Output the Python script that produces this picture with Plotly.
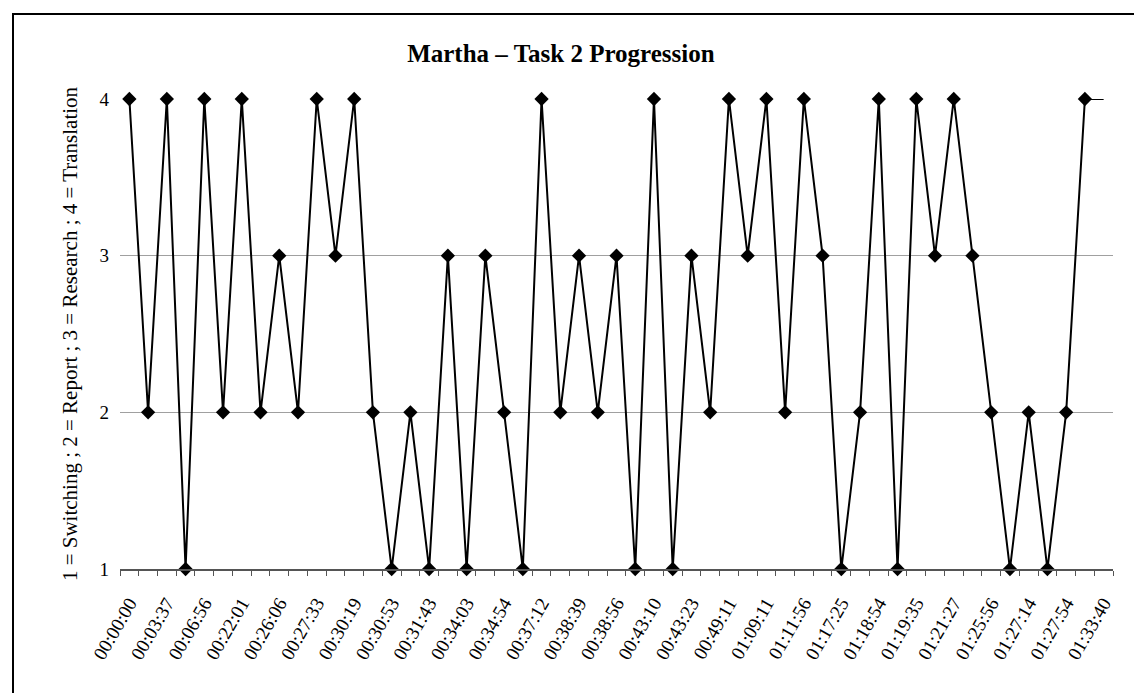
import plotly.graph_objects as go

# Values per observation (1 = Switching, 2 = Report, 3 = Research, 4 = Translation)
values = [4, 2, 4, 1, 4, 2, 4, 2, 3, 2,
          4, 3, 4, 2, 1, 2, 1, 3, 1, 3,
          2, 1, 4, 2, 3, 2, 3, 1, 4, 1,
          3, 2, 4, 3, 4, 2, 4, 3, 1, 2,
          4, 1, 4, 3, 4, 3, 2, 1, 2, 1,
          2, 4, 4]

# Time labels shown on every other category
tick_labels = ["00:00:00", "00:03:37", "00:06:56", "00:22:01", "00:26:06", "00:27:33",
               "00:30:19", "00:30:53", "00:31:43", "00:34:03", "00:34:54", "00:37:12",
               "00:38:39", "00:38:56", "00:43:10", "00:43:23", "00:49:11", "01:09:11",
               "01:11:56", "01:17:25", "01:18:54", "01:19:35", "01:21:27", "01:25:56",
               "01:27:14", "01:27:54", "01:33:40"]

y_ticks = [1, 2, 3, 4]

x = list(range(len(values)))
marker_sizes = [11] * (len(values) - 1) + [0]

FONT = "Liberation Serif"

fig = go.Figure()
fig.add_trace(go.Scatter(
    x=x, y=values, mode="lines+markers",
    line=dict(color="black", width=2),
    marker=dict(symbol="diamond", size=marker_sizes, color="black", opacity=1,
                line=dict(width=0, color="black")),
    cliponaxis=False, showlegend=False,
))

fig.update_layout(
    width=1134, height=693,
    margin=dict(l=120, r=21, t=99, b=124),
    paper_bgcolor="white", plot_bgcolor="white",
    font=dict(family=FONT, color="black"),
    title=dict(text="<b>Martha \u2013 Task 2 Progression</b>",
               font=dict(family=FONT, size=25, color="black"),
               x=0.444, xref="paper", xanchor="center",
               y=1 - 53 / 693, yref="container", yanchor="middle"),
    xaxis=dict(
        range=[-0.5, len(values) - 0.5],
        tickvals=x[::2], ticktext=tick_labels,
        tickangle=-60, tickfont=dict(family=FONT, size=19, color="black"),
        ticks="", ticklabelstandoff=14,
        showgrid=False, zeroline=False,
        showline=True, linecolor="#555555", linewidth=1.5,
        minor=dict(ticks="outside", ticklen=5, tickwidth=1, tickcolor="#555555",
                   tick0=-0.5, dtick=1, showgrid=False),
    ),
    yaxis=dict(
        range=[1, 4], tickvals=y_ticks,
        tickfont=dict(family=FONT, size=19, color="black"),
        ticks="", ticklabelstandoff=10,
        showgrid=True, gridcolor="#a0a0a0", gridwidth=1,
        zeroline=False, showline=False,
        title=dict(text="1 = Switching ; 2 = Report ; 3 = Research ; 4 = Translation",
                   font=dict(family=FONT, size=21, color="black"), standoff=16),
    ),
    shapes=[dict(type="rect", xref="paper", yref="paper",
                 x0=(13 - 120) / 993, x1=(1150 - 120) / 993,
                 y0=(569 - 720) / 470, y1=(569 - 14) / 470,
                 line=dict(color="black", width=2), fillcolor="rgba(0,0,0,0)",
                 layer="below")],
)

fig.write_html("out.html")
